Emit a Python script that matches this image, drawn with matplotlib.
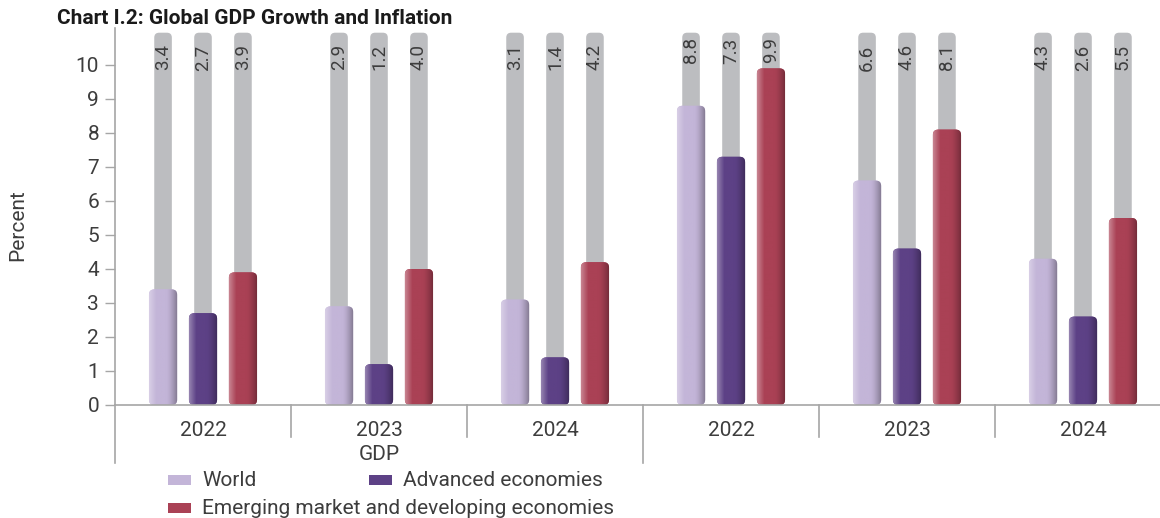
import numpy as np
import matplotlib
matplotlib.use('Agg')
import matplotlib.pyplot as plt
from matplotlib.patches import FancyBboxPatch, Rectangle
from matplotlib.colors import to_rgb

plt.rcParams['font.family'] = ['Roboto', 'DejaVu Sans']

# data
years = ['2022', '2023', '2024', '2022', '2023', '2024']
group_labels = ['GDP', '']
series = ['World', 'Advanced economies', 'Emerging market and developing economies']
world = [3.4, 2.9, 3.1, 8.8, 6.6, 4.3]
advanced = [2.7, 1.2, 1.4, 7.3, 4.6, 2.6]
emerging = [3.9, 4.0, 4.2, 9.9, 8.1, 5.5]
colors = ['#c3b5d8', '#5d4186', '#aa4155']
grey = '#bcbdc0'
txt = '#3d3d3d'
fw = 'normal'

W, H = 1160, 518
fig = plt.figure(figsize=(W / 100, H / 100), dpi=100)
ppu_x, ppu_y = 176, 34
ymax = 11.1
ax = fig.add_axes([115 / W, 1 - 405 / H, 1045 / W, ymax * ppu_y / H])
ax.set_xlim(-0.5, -0.5 + 1045 / ppu_x)
ax.set_ylim(0, ymax)

aspect = ppu_x / ppu_y
x = np.arange(len(years))
offsets = [-0.227, 0, 0.227]
bar_w = 0.16
bg_w = 0.1
bg_top = 10.95


def shade(c, n=64):
    base = np.array(to_rgb(c))
    t = np.linspace(0, 1, n)
    out = np.zeros((1, n, 3))
    for i, v in enumerate(t):
        if v < 0.25:
            k = (0.25 - v) / 0.25
            out[0, i] = base + (1 - base) * 0.35 * k
        elif v > 0.6:
            k = (v - 0.6) / 0.4
            out[0, i] = base * (1 - 0.35 * k ** 1.5)
        else:
            out[0, i] = base
    return out


def round_bars(bars, r, z, color=None, grad=False):
    for b in bars:
        x0, y0 = b.get_x(), b.get_y()
        w, h = b.get_width(), b.get_height()
        fc = b.get_facecolor()
        b.remove()
        p = FancyBboxPatch((x0, y0), w, h,
                           boxstyle=f'round,pad=0,rounding_size={r}',
                           mutation_aspect=aspect, fc=fc, ec='none', zorder=z)
        ax.add_patch(p)
        if grad:
            im = ax.imshow(shade(color), extent=[x0, x0 + w, y0, y0 + h],
                           aspect='auto', zorder=z + 0.1, interpolation='bilinear')
            im.set_clip_path(p)


# label top per slot: pushed up when a bar would reach the label
slot_max = np.max([world, advanced, emerging], axis=0)
label_top = np.where(slot_max > 9.5, bg_top - 0.14, bg_top - 0.34)

for j, vals in enumerate([world, advanced, emerging]):
    xs = x + offsets[j]
    bg = ax.bar(xs, [bg_top] * len(xs), bg_w, color=grey)
    round_bars(bg, 0.028, 1)
    fg = ax.bar(xs, vals, bar_w, color=colors[j])
    round_bars(fg, 0.03, 2, colors[j], grad=True)
    for xi, v, lt in zip(xs, vals, label_top):
        ax.text(xi, lt, f'{v:.1f}', rotation=90, ha='center', va='top',
                fontsize=13.5, fontweight=fw, color=txt, zorder=5)

ax.set_xlim(-0.5, -0.5 + 1045 / ppu_x)
ax.set_ylim(0, ymax)

# axes styling
ax.set_yticks(range(0, 11))
ax.tick_params(axis='y', length=7.5, width=1, color='#a6a6a6', pad=4,
               labelsize=15, labelcolor=txt)
for lab in ax.get_yticklabels():
    lab.set_fontweight(fw)
ax.set_xticks([])
for s in ['top', 'right']:
    ax.spines[s].set_visible(False)
for s in ['left', 'bottom']:
    ax.spines[s].set_color('#a6a6a6')
    ax.spines[s].set_linewidth(1.2)
ax.set_ylabel('Percent', fontsize=15, fontweight=fw, color=txt)
ax.yaxis.set_label_coords(-88 / 1045, 0.5 - 9 / (ymax * ppu_y))

# two-level category axis
axh = ymax * ppu_y
tr = ax.get_xaxis_transform()
for b in [-0.5, 0.5, 1.5, 2.5, 3.5, 4.5, 5.5]:
    long = b in (-0.5, 2.5, 5.5)
    ax.plot([b, b], [0, -(58 if long else 32) / axh], transform=tr,
            color='#a6a6a6', lw=1.2, clip_on=False)
for xi, yl in zip(x, years):
    ax.text(xi, -25 / axh, yl, transform=tr, ha='center', va='center',
            fontsize=15, fontweight=fw, color=txt)
for g, gl in enumerate(group_labels):
    ax.text(g * 3 + 1, -49 / axh, gl, transform=tr, ha='center', va='center',
            fontsize=15, fontweight=fw, color=txt)

# legend
def fx(px):
    return px / W


def fy(py):
    return 1 - py / H


legend_pos = [(168, 480), (369, 480), (168, 508)]
for (px, py), name, c in zip(legend_pos, series, colors):
    fig.add_artist(Rectangle((fx(px), fy(py + 5)), 23 / W, 10 / H,
                             transform=fig.transFigure, fc=c, ec='none'))
    fig.text(fx(px + 34), fy(py), name, ha='left', va='center',
             fontsize=15, fontweight=fw, color=txt)

fig.text(fx(57), fy(19), 'Chart I.2: Global GDP Growth and Inflation',
         ha='left', va='center', fontsize=15, fontweight='bold', color='#1a1a1a')

fig.savefig('out.png', dpi=100)
